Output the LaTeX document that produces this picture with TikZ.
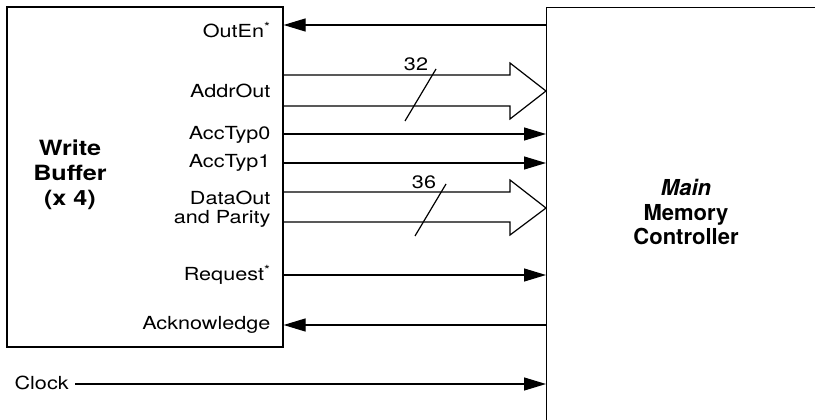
\documentclass[tikz,border=0pt]{standalone}
\usepackage{fontspec}
\setmainfont{TeX Gyre Heros}
\newfontfamily\widefont[FakeStretch=1.2]{TeX Gyre Heros}
\usetikzlibrary{arrows.meta}
\begin{document}
\begin{tikzpicture}[x=1pt,y=-1pt,line width=1.2pt,
  sig/.style={-{Triangle[length=22pt,width=13pt]}},
  lbl/.style={anchor=east,inner sep=0pt,font=\widefont\fontsize{18}{19}\selectfont},
  bigl/.style={align=center,inner sep=0pt,font=\widefont\fontsize{21}{25}\selectfont\bfseries},
  bigr/.style={align=center,inner sep=0pt,font=\fontsize{22}{24.5}\selectfont\bfseries},
  bus/.style={line join=miter},
  num/.style={inner sep=0pt,font=\widefont\fontsize{18}{21}\selectfont}]
\useasboundingbox (0,0) rectangle (815,420);
\clip (0,0) rectangle (815,420);
% boxes
\node[draw,minimum width=276pt,minimum height=340pt,inner sep=0pt] (wb) at (145,177) {};
\node[draw,minimum width=290pt,minimum height=430pt,inner sep=0pt,anchor=north west] (mmc) at (546,7) {};
\node[bigl] (wbt) at (70,175) {Write\\Buffer\\(x 4)};
\node[bigr] (mmct) at (686,212) {\textit{Main}\\Memory\\Controller};
% labels
\node[lbl] (l1) at (271,30) {OutEn\textsuperscript{*}};
\node[lbl] (l2) at (271,91) {AddrOut};
\node[lbl] (l3) at (271,135) {AccTyp0};
\node[lbl] (l4) at (271,163) {AccTyp1};
\node[lbl,align=right] (l5) at (271,209) {DataOut\\and Parity};
\node[lbl] (l6) at (271,275) {Request\textsuperscript{*}};
\node[lbl] (l7) at (271,325) {Acknowledge};
\node[anchor=west,inner sep=0pt,font=\widefont\fontsize{18}{21}\selectfont] (clk) at (14,383) {Clock};
% single signals
\draw[sig] (mmc.west |- 0,25) -- (wb.east |- 0,25);
\draw[sig] (wb.east |- 0,134) -- (mmc.west |- 0,134);
\draw[sig] (wb.east |- 0,163) -- (mmc.west |- 0,163);
\draw[sig] (wb.east |- 0,275) -- (mmc.west |- 0,275);
\draw[sig] (mmc.west |- 0,325) -- (wb.east |- 0,325);
\draw[sig] ([xshift=6pt]clk.east |- 0,384) -- (mmc.west |- 0,384);
% buses
\draw[bus] (wb.east |- 0,75) -- (510,75) -- (510,63) -- (mmc.west |- 0,91) -- (510,119) -- (510,106) -- (wb.east |- 0,106);
\draw[bus] (wb.east |- 0,192) -- (510,192) -- (510,180) -- (mmc.west |- 0,208) -- (510,235) -- (510,222) -- (wb.east |- 0,222);
% bus widths
\coordinate (s1a) at (405,121);
\coordinate (s1b) at (436,69);
\draw (s1a) -- (s1b);
\node[num] (n32) at (416,64) {32};
\coordinate (s2a) at (415,236);
\coordinate (s2b) at (446,184);
\draw (s2a) -- (s2b);
\node[num] (n36) at (424,182) {36};
\end{tikzpicture}
\end{document}
